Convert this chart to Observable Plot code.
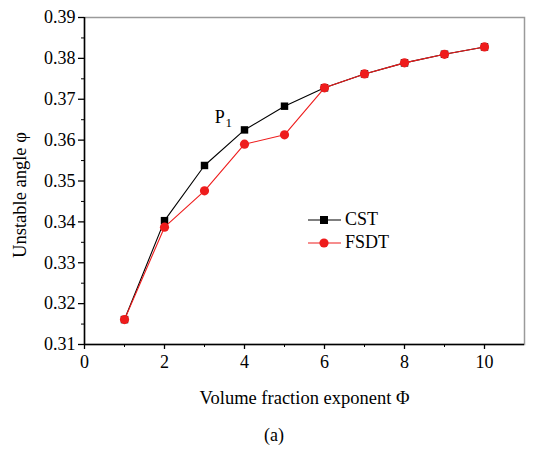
<!DOCTYPE html>
<html><head><meta charset="utf-8">
<script src="https://cdn.jsdelivr.net/npm/d3@7"></script>
<script src="https://cdn.jsdelivr.net/npm/@observablehq/plot@0.6"></script>
<style>
body{margin:0;background:#fff;font-family:"Liberation Serif",serif;}
#wrap{position:relative;width:548px;}
#cap{width:548px;text-align:center;font-size:18px;margin-top:5px;box-sizing:border-box;}
#legend{position:absolute;left:308px;top:208px;font-size:18px;line-height:23px;}
#legend div{display:flex;align-items:center;}
#legend svg{margin-right:4px;}
svg text{font-family:"Liberation Serif",serif;}
</style>
</head><body>
<div id="wrap"><div id="chart"></div><div id="legend"></div></div>
<div id="cap">(a)</div>
<script>
const phi = [1,2,3,4,5,6,7,8,9,10];
const cst = [0.3161,0.3403,0.3538,0.3625,0.3683,0.3728,0.3762,0.3789,0.3810,0.3828];
const fsdt = [0.3161,0.3387,0.3476,0.3590,0.3613,0.3728,0.3762,0.3789,0.3810,0.3828];
const yTicks = [0.31,0.32,0.33,0.34,0.35,0.36,0.37,0.38,0.39];
const yMinor = [0.315,0.325,0.335,0.345,0.355,0.365,0.375,0.385];
const xTicks = [0,2,4,6,8,10];
const xMinor = [1,3,5,7,9];
const seriesNames = ["CST","FSDT"];
const colors = ["#000000","#ee1c1c"];

const cstData = phi.map((x,i)=>({x, y:cst[i]}));
const fsdtData = phi.map((x,i)=>({x, y:fsdt[i]}));
const font = '"Liberation Serif", serif';

const chart = Plot.plot({
  width:548, height:420,
  marginLeft:84, marginRight:24, marginTop:17, marginBottom:76,
  style:{fontFamily:font, fontSize:"18px", background:"#fff", color:"#000"},
  x:{domain:[0,11]},
  y:{domain:[0.31,0.39]},
  marks:[
    Plot.frame({stroke:"#9a9a9a", strokeWidth:1.5}),
    Plot.axisY({ticks:yTicks, tickSize:6, tickFormat:d=>d.toFixed(2), fontSize:18, tickPadding:3, label:null, strokeWidth:1.3}),
    Plot.axisY({ticks:yMinor, tickSize:3, text:null, label:null}),
    Plot.axisX({ticks:xTicks, tickSize:5, fontSize:18, tickPadding:6, label:null, strokeWidth:1.3}),
    Plot.axisX({ticks:xMinor, tickSize:3, text:null, label:null}),
    Plot.ruleX([0],{stroke:"#000", strokeWidth:1.5}),
    Plot.ruleY([0.31],{stroke:"#000", strokeWidth:1.5}),
    Plot.line(cstData,{x:"x",y:"y",stroke:colors[0],strokeWidth:1.1}),
    Plot.dot(cstData,{x:"x",y:"y",symbol:"square",r:4.2,fill:colors[0],stroke:"none"}),
    Plot.line(fsdtData,{x:"x",y:"y",stroke:colors[1],strokeWidth:1.1}),
    Plot.dot(fsdtData,{x:"x",y:"y",symbol:"circle",r:4.6,fill:colors[1],stroke:"none"}),
    Plot.text(["P"],{x:3.38,y:0.3655,text:d=>d,fontSize:18,fontFamily:font}),
    Plot.text(["1"],{x:3.38,y:0.3655,text:d=>d,fontSize:13,fontFamily:font,dx:9,dy:5}),
    Plot.text(["Volume fraction exponent Φ"],{frameAnchor:"bottom",dy:59,text:d=>d,fontSize:18.5,fontFamily:font}),
    Plot.text(["Unstable angle φ"],{frameAnchor:"left",dx:-64,dy:14,rotate:-90,textAnchor:"middle",text:d=>d,fontSize:18.5,fontFamily:font})
  ]
});
document.getElementById("chart").appendChild(chart);

const leg = document.getElementById("legend");
seriesNames.forEach((name,i)=>{
  const row = document.createElement("div");
  const marker = i===0
    ? `<rect x="12" y="3" width="8" height="8" fill="${colors[i]}"/>`
    : `<circle cx="16" cy="7" r="4.6" fill="${colors[i]}"/>`;
  row.innerHTML = `<svg width="33" height="14"><line x1="0" x2="33" y1="7" y2="7" stroke="${colors[i]}" stroke-width="1.1"/>${marker}</svg><span>${name}</span>`;
  leg.appendChild(row);
});
</script>
</body></html>
